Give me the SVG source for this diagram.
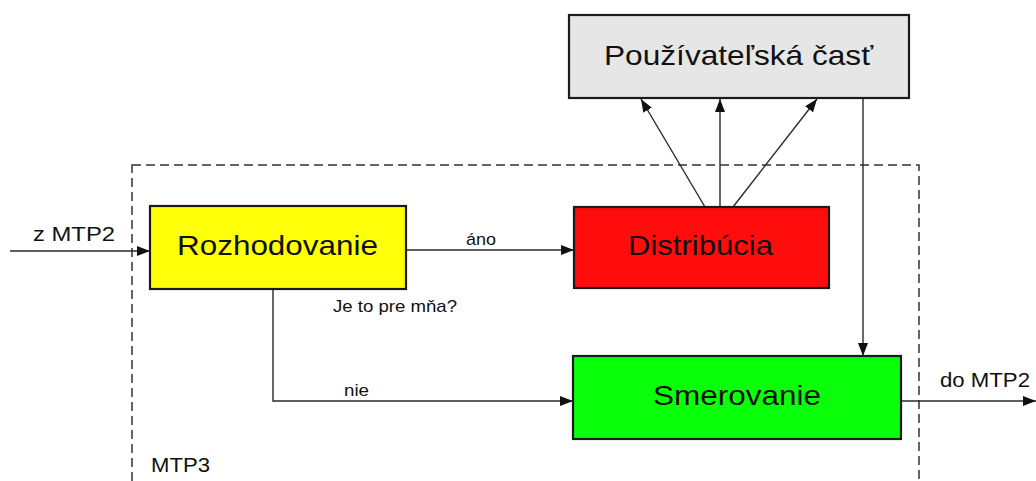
<svg xmlns="http://www.w3.org/2000/svg" width="1036" height="481" viewBox="0 0 1036 481">
<style>
.box{stroke:#1a1a1a;stroke-width:2.2}
.lbl{font-family:"Liberation Sans",Arial,sans-serif;fill:#111}
.big{font-size:28px}
.sm{font-size:17px}
.md{font-size:21px}
.con{fill:none;stroke:#2a2a2a;stroke-width:1.4;marker-end:url(#ah)}
</style>
<defs>
<marker id="ah" markerUnits="userSpaceOnUse" markerWidth="14" markerHeight="10" refX="13" refY="5" orient="auto" viewBox="0 0 14 10">
<path d="M0,0 L13,5 L0,10 Z" fill="#111"/>
</marker>
</defs>
<rect x="132" y="165" width="787" height="330" fill="none" stroke="#333" stroke-width="1.5" stroke-dasharray="9,5"/>
<text class="lbl md" x="151" y="472" textLength="59" lengthAdjust="spacingAndGlyphs">MTP3</text>
<g id="connectors">
<path class="con" d="M10,251 H150"/>
<path class="con" d="M406,250 H574"/>
<path class="con" d="M705,207 L641,99"/>
<path class="con" d="M720,207 V99"/>
<path class="con" d="M733,207 L817,99"/>
<path class="con" d="M863,98 V356"/>
<path class="con" d="M273,289 V401 H573"/>
<path class="con" d="M901,401 H1036"/>
<text class="lbl md" x="33" y="241" textLength="82" lengthAdjust="spacingAndGlyphs">z MTP2</text>
<text class="lbl sm" x="466" y="245" textLength="30" lengthAdjust="spacingAndGlyphs">áno</text>
<text class="lbl sm" x="333" y="312" textLength="124" lengthAdjust="spacingAndGlyphs">Je to pre mňa?</text>
<text class="lbl sm" x="344" y="396" textLength="25" lengthAdjust="spacingAndGlyphs">nie</text>
<text class="lbl md" x="940" y="387" textLength="90" lengthAdjust="spacingAndGlyphs">do MTP2</text>
</g>
<g id="pouzivatelska">
<rect class="box" x="569" y="15" width="340" height="83" fill="#e6e6e6"/>
<text class="lbl big" x="604" y="65" textLength="269" lengthAdjust="spacingAndGlyphs">Používateľská časť</text>
</g>
<g id="rozhodovanie">
<rect class="box" x="150" y="206" width="256" height="83" fill="#ffff0a"/>
<text class="lbl big" x="177" y="255" textLength="201" lengthAdjust="spacingAndGlyphs">Rozhodovanie</text>
</g>
<g id="distribucia">
<rect class="box" x="574" y="207" width="255" height="81" fill="#ff0d0d"/>
<text class="lbl big" x="628" y="255" textLength="145" lengthAdjust="spacingAndGlyphs">Distribúcia</text>
</g>
<g id="smerovanie">
<rect class="box" x="573" y="356" width="328" height="83" fill="#0aff0a"/>
<text class="lbl big" x="653" y="405" textLength="168" lengthAdjust="spacingAndGlyphs">Smerovanie</text>
</g>
</svg>
